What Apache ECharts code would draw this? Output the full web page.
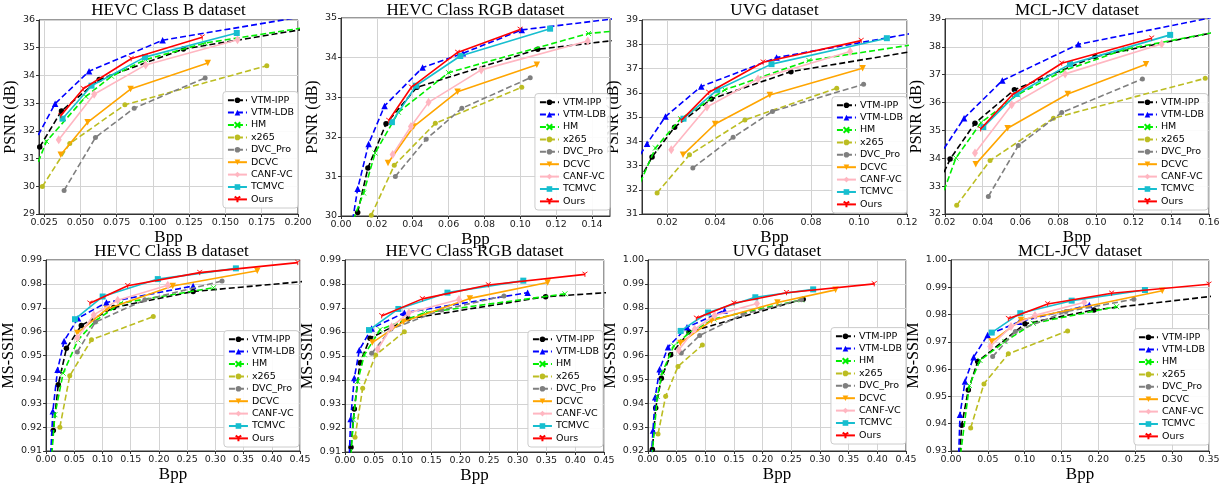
<!DOCTYPE html>
<html><head><meta charset="utf-8">
<script src="https://cdn.jsdelivr.net/npm/echarts@6/dist/echarts.min.js"></script>
<style>html,body{margin:0;padding:0;background:#fff}#c{width:1225px;height:485px}</style>
</head><body><div id="c"></div>
<script>
// ---------- DATA ----------
const seriesNames = ['VTM-IPP','VTM-LDB','HM','x265','DVC_Pro','DCVC','CANF-VC','TCMVC','Ours'];
const panelTitles = ['HEVC Class B dataset','HEVC Class RGB dataset','UVG dataset','MCL-JCV dataset',
                     'HEVC Class B dataset','HEVC Class RGB dataset','UVG dataset','MCL-JCV dataset'];
const yNames = ['PSNR (dB)','PSNR (dB)','PSNR (dB)','PSNR (dB)','MS-SSIM','MS-SSIM','MS-SSIM','MS-SSIM'];
const xName = 'Bpp';

// axis ranges and tick labels
const xRanges = [[0.0215,0.2],[0,0.15],[0.0095,0.12],[0.02,0.16],[0,0.45],[0,0.45],[0,0.45],[0,0.35]];
const yRanges = [[29,36],[30,35],[31,39],[32,39],[0.91,0.99],[0.91,0.99],[0.92,1.00],[0.93,1.00]];
const xTicks = [
  ['0.025','0.050','0.075','0.100','0.125','0.150','0.175','0.200'],
  ['0.00','0.02','0.04','0.06','0.08','0.10','0.12','0.14'],
  ['0.02','0.04','0.06','0.08','0.10','0.12'],
  ['0.02','0.04','0.06','0.08','0.10','0.12','0.14','0.16'],
  ['0.00','0.05','0.10','0.15','0.20','0.25','0.30','0.35','0.40','0.45'],
  ['0.00','0.05','0.10','0.15','0.20','0.25','0.30','0.35','0.40','0.45'],
  ['0.00','0.05','0.10','0.15','0.20','0.25','0.30','0.35','0.40','0.45'],
  ['0.00','0.05','0.10','0.15','0.20','0.25','0.30','0.35']
];
const yTicks = [
  ['29','30','31','32','33','34','35','36'],
  ['30','31','32','33','34','35'],
  ['31','32','33','34','35','36','37','38','39'],
  ['32','33','34','35','36','37','38','39'],
  ['0.91','0.92','0.93','0.94','0.95','0.96','0.97','0.98','0.99'],
  ['0.91','0.92','0.93','0.94','0.95','0.96','0.97','0.98','0.99'],
  ['0.92','0.93','0.94','0.95','0.96','0.97','0.98','0.99','1.00'],
  ['0.93','0.94','0.95','0.96','0.97','0.98','0.99','1.00']
];

// series values per panel, in seriesNames order: [bpp, quality]
const hevcB_psnr = [
  [[0.022,31.42],[0.037,32.72],[0.063,33.85],[0.121,34.95],[0.21,35.72]],
  [[0.021,31.85],[0.0326,32.98],[0.056,34.15],[0.1067,35.27],[0.21,36.18]],
  [[0.021,30.88],[0.0266,31.62],[0.0538,33.24],[0.0715,33.97],[0.095,34.57],[0.136,35.17],[0.21,35.77]],
  [[0.0238,29.99],[0.0427,31.54],[0.0807,32.94],[0.1785,34.35]],
  [[0.0388,29.85],[0.0604,31.76],[0.0871,32.82],[0.136,33.91]],
  [[0.0365,31.14],[0.055,32.31],[0.0846,33.51],[0.1378,34.45]],
  [[0.0351,31.68],[0.0595,33.32],[0.095,34.38],[0.1583,35.29]],
  [[0.0377,32.44],[0.0577,33.63],[0.0945,34.66],[0.1578,35.53]],
  [[0.0365,32.55],[0.052,33.52],[0.085,34.6],[0.134,35.38]]
];
const hevcRGB_psnr = [
  [[0.0093,30.09],[0.015,31.21],[0.0251,32.33],[0.0423,33.25],[0.1097,34.21],[0.165,34.5]],
  [[0.0065,29.9],[0.0093,30.69],[0.0154,31.82],[0.0243,32.78],[0.0455,33.75],[0.068,34.11],[0.1008,34.7],[0.165,35.05]],
  [[0.0068,29.9],[0.0126,30.58],[0.019,31.59],[0.032,32.62],[0.06,33.62],[0.138,34.61],[0.165,34.72]],
  [[0.0169,30.02],[0.0297,31.28],[0.0526,32.34],[0.1008,33.25]],
  [[0.0303,31.0],[0.0475,31.94],[0.0674,32.72],[0.1055,33.49]],
  [[0.0262,31.34],[0.0405,32.26],[0.065,33.14],[0.1092,33.82]],
  [[0.0288,31.55],[0.039,32.26],[0.0488,32.87],[0.0782,33.69],[0.1376,34.42]],
  [[0.0284,32.37],[0.0418,33.29],[0.0665,34.04],[0.1166,34.73]],
  [[0.0266,32.41],[0.0392,33.25],[0.065,34.13],[0.0999,34.71]]
];
const uvg_psnr = [
  [[0.0085,32.4],[0.0137,33.35],[0.0231,34.58],[0.0384,35.74],[0.0716,36.87],[0.125,37.75]],
  [[0.0088,33.45],[0.0116,33.9],[0.0193,35.02],[0.0342,36.26],[0.0656,37.45],[0.125,38.5]],
  [[0.0088,32.3],[0.0151,33.72],[0.0256,34.93],[0.044,36.12],[0.0791,37.33],[0.125,38.02]],
  [[0.0158,31.87],[0.0293,33.44],[0.0524,34.88],[0.0907,36.19]],
  [[0.0307,32.9],[0.0475,34.16],[0.0639,35.23],[0.1019,36.35]],
  [[0.0266,33.44],[0.04,34.71],[0.0628,35.91],[0.1015,37.01]],
  [[0.0217,33.65],[0.0366,35.41],[0.0579,36.57],[0.0963,37.7]],
  [[0.0268,34.93],[0.0409,36.12],[0.0635,37.18],[0.1116,38.25]],
  [[0.0259,34.86],[0.0373,36.01],[0.06,37.26],[0.1009,38.15]]
];
const mcl_psnr = [
  [[0.0195,33.5],[0.0227,33.97],[0.0359,35.26],[0.0568,36.46],[0.0996,37.65],[0.165,38.55]],
  [[0.0195,34.35],[0.0301,35.44],[0.0504,36.79],[0.0907,38.09],[0.165,39.1]],
  [[0.0195,32.85],[0.0258,34.01],[0.0391,35.28],[0.0584,36.28],[0.0828,37.14],[0.1155,37.91],[0.165,38.55]],
  [[0.0262,32.31],[0.0439,33.92],[0.0775,35.44],[0.158,36.87]],
  [[0.043,32.63],[0.0589,34.46],[0.0819,35.64],[0.1247,36.85]],
  [[0.0363,33.79],[0.0532,35.08],[0.0851,36.31],[0.1266,37.38]],
  [[0.0359,34.19],[0.0554,35.92],[0.0837,37.03],[0.1349,38.1]],
  [[0.0403,35.12],[0.058,36.31],[0.0863,37.38],[0.1394,38.43]],
  [[0.0389,35.05],[0.0557,36.28],[0.0819,37.41],[0.1296,38.31]]
];
const hevcB_ssim = [
  [[0.008,0.905],[0.0128,0.9186],[0.0216,0.9377],[0.0361,0.953],[0.0625,0.9626],[0.12,0.9701],[0.2606,0.9768],[0.48,0.9815]],
  [[0.0075,0.905],[0.012,0.9266],[0.0204,0.944],[0.032,0.9561],[0.0566,0.9656],[0.107,0.9722],[0.2606,0.9791]],
  [[0.009,0.905],[0.0157,0.9252],[0.0303,0.9426],[0.0566,0.9565],[0.0875,0.9645],[0.1323,0.9719],[0.2967,0.9784]],
  [[0.0245,0.92],[0.042,0.9415],[0.0805,0.9566],[0.19,0.9663]],
  [[0.0554,0.9515],[0.0875,0.964],[0.175,0.9733],[0.3119,0.9812]],
  [[0.0554,0.9594],[0.108,0.9695],[0.2244,0.9791],[0.3743,0.9855]],
  [[0.0554,0.9573],[0.0845,0.967],[0.127,0.9731],[0.2157,0.9794]],
  [[0.0513,0.9652],[0.1003,0.9747],[0.198,0.982],[0.3364,0.9865]],
  [[0.0776,0.9719],[0.1446,0.9792],[0.2723,0.9847],[0.446,0.9889]]
];
const hevcRGB_ssim = [
  [[0.008,0.905],[0.0104,0.912],[0.0162,0.9279],[0.026,0.9472],[0.0435,0.9574],[0.11,0.9655],[0.3486,0.9747],[0.48,0.9768]],
  [[0.007,0.905],[0.0098,0.9238],[0.0162,0.9408],[0.0249,0.9525],[0.0463,0.9615],[0.1031,0.968],[0.3173,0.9764]],
  [[0.0095,0.905],[0.0145,0.9234],[0.022,0.9394],[0.0336,0.9505],[0.061,0.961],[0.1378,0.968],[0.3821,0.9759]],
  [[0.0174,0.9161],[0.0307,0.9366],[0.0533,0.9504],[0.1031,0.9601]],
  [[0.0463,0.9511],[0.0799,0.9612],[0.1679,0.9692],[0.2762,0.975]],
  [[0.0475,0.9556],[0.1014,0.9643],[0.217,0.974],[0.352,0.9806]],
  [[0.0568,0.9528],[0.0811,0.9622],[0.111,0.968],[0.198,0.9735]],
  [[0.0417,0.9608],[0.0927,0.9696],[0.178,0.9764],[0.3098,0.9814]],
  [[0.0637,0.9667],[0.1344,0.9738],[0.249,0.9796],[0.4169,0.984]]
];
const uvg_ssim = [
  [[0.0065,0.915],[0.0076,0.9206],[0.0134,0.938],[0.0233,0.9505],[0.0395,0.9603],[0.0715,0.9698],[0.2706,0.9836]],
  [[0.006,0.918],[0.0087,0.9286],[0.0125,0.9425],[0.0203,0.9542],[0.0349,0.9635],[0.068,0.9718],[0.1337,0.9789]],
  [[0.007,0.918],[0.0163,0.9429],[0.025,0.9529],[0.0448,0.964],[0.071,0.9693],[0.1152,0.9753],[0.2677,0.9833]],
  [[0.0175,0.9271],[0.0308,0.9429],[0.0523,0.9554],[0.0948,0.9644]],
  [[0.0581,0.961],[0.0901,0.9684],[0.1657,0.9773],[0.2677,0.9833]],
  [[0.0565,0.9652],[0.1106,0.9746],[0.2258,0.9822],[0.3271,0.9875]],
  [[0.0535,0.9623],[0.0814,0.971],[0.1163,0.9768],[0.19,0.9818]],
  [[0.057,0.9703],[0.1047,0.978],[0.1872,0.9844],[0.2881,0.9877]],
  [[0.0843,0.9756],[0.15,0.9819],[0.2415,0.9863],[0.3946,0.99]]
];
const mcl_ssim = [
  [[0.012,0.929],[0.0145,0.9394],[0.0235,0.9524],[0.0362,0.9628],[0.1003,0.9766],[0.1939,0.9817],[0.37,0.9872]],
  [[0.0105,0.929],[0.0122,0.9433],[0.019,0.9555],[0.0307,0.9644],[0.0497,0.9725],[0.0927,0.9774],[0.1876,0.9835]],
  [[0.013,0.929],[0.0249,0.954],[0.0393,0.9632],[0.0732,0.9701],[0.1116,0.9768],[0.2246,0.9829]],
  [[0.0267,0.9384],[0.0447,0.9546],[0.0778,0.9656],[0.1582,0.974]],
  [[0.0565,0.9646],[0.0873,0.9738],[0.156,0.9811],[0.2481,0.9856]],
  [[0.0552,0.9701],[0.0949,0.978],[0.2866,0.9887]],
  [[0.0533,0.9683],[0.0814,0.9756],[0.1139,0.9797],[0.1808,0.9845]],
  [[0.0552,0.9734],[0.094,0.9805],[0.1637,0.9851],[0.2631,0.989]],
  [[0.0778,0.9785],[0.1311,0.9839],[0.2179,0.9878],[0.35,0.9911]]
];
const panelData = [hevcB_psnr, hevcRGB_psnr, uvg_psnr, mcl_psnr, hevcB_ssim, hevcRGB_ssim, uvg_ssim, mcl_ssim];

// ---------- LAYOUT / STYLE ----------
const W = 1225, H = 485;
const grids = [
  {left:39, top:20, width:259, height:194},
  {left:341, top:18, width:269, height:198},
  {left:642, top:20, width:265, height:194},
  {left:945, top:19, width:264, height:195},
  {left:43, top:260, width:257, height:191},
  {left:345, top:260, width:259, height:192},
  {left:648, top:260, width:258, height:191},
  {left:951, top:260, width:258, height:191}
];
const legendPos = [
  {right:927, bottom:277},{right:615, bottom:275},{right:318, bottom:272},{right:17, bottom:275},
  {right:926, bottom:38},{right:622, bottom:38},{right:319, bottom:41},{right:16, bottom:40}
];
const yNameGap = [18,14,14,13,22,20,21,21];
const xNameGap = [2,1,2,2,7,7,7,7];

const X_PATH = 'path://M0,0L10,10M10,0L0,10';
const TRI1_PATH = 'path://M5,5L5,10M5,5L0.67,2.5M5,5L9.33,2.5';
const styles = [
  {color:'#000000', dash:true,  symbol:'circle',   size:5.5},
  {color:'#0000ff', dash:true,  symbol:'triangle', size:6.5},
  {color:'#00ee00', dash:true,  symbol:X_PATH,     size:5, stroke:true},
  {color:'#bcbd22', dash:true,  symbol:'circle',   size:5},
  {color:'#7f7f7f', dash:true,  symbol:'circle',   size:5},
  {color:'#ffa500', dash:false, symbol:'triangle', size:6.5, rotate:180},
  {color:'#ffb6c1', dash:false, symbol:'diamond',  size:[6,9]},
  {color:'#17becf', dash:false, symbol:'rect',     size:6},
  {color:'#ff0000', dash:false, symbol:TRI1_PATH,  size:5, stroke:true}
];

const sansFont = 'DejaVu Sans';
const serifFont = 'Liberation Serif';

const option = {
  animation:false,
  backgroundColor:'#ffffff',
  grid: grids.map(g => Object.assign({show:true, borderColor:'#333', borderWidth:1, backgroundColor:'#fff', containLabel:false}, g)),
  xAxis: [], yAxis: [], series: [], legend: [], graphic: []
};

for (let p = 0; p < 8; p++) {
  const xv = xTicks[p].map(Number), yv = yTicks[p].map(Number);
  const xDec = xTicks[p][0].split('.')[1] ? xTicks[p][0].split('.')[1].length : 0;
  const yDec = yTicks[p][0].split('.')[1] ? yTicks[p][0].split('.')[1].length : 0;
  option.xAxis.push({
    type:'value', gridIndex:p, min:xRanges[p][0], max:xRanges[p][1],
    name:xName, nameLocation:'middle', nameGap:xNameGap[p],
    nameTextStyle:{fontFamily:serifFont, fontSize:17, color:'#000', verticalAlign:'top'},
    axisLine:{show:true, onZero:false, lineStyle:{color:'#333', width:1}},
    axisTick:{show:true, length:3, lineStyle:{color:'#333'}, customValues:xv},
    axisLabel:{fontFamily:sansFont, fontSize:9.5, color:'#222', margin:4, customValues:xv,
               formatter:v => Number(v).toFixed(xDec), showMinLabel:true, showMaxLabel:true},
    splitLine:{show:true, lineStyle:{color:'#d3d3d3', width:1}}
  });
  option.yAxis.push({
    type:'value', gridIndex:p, min:yRanges[p][0], max:yRanges[p][1],
    name:yNames[p], nameLocation:'middle', nameGap:yNameGap[p], nameRotate:90,
    nameTextStyle:{fontFamily:serifFont, fontSize:16, color:'#000'},
    axisLine:{show:true, onZero:false, lineStyle:{color:'#333', width:1}},
    axisTick:{show:true, length:3, lineStyle:{color:'#333'}, customValues:yv},
    axisLabel:{fontFamily:sansFont, fontSize:9.5, color:'#222', margin:4, customValues:yv,
               formatter:v => Number(v).toFixed(yDec)},
    splitLine:{show:true, lineStyle:{color:'#d3d3d3', width:1}}
  });
  panelData[p].forEach((pts, s) => {
    const st = styles[s];
    option.series.push({
      type:'line', name:seriesNames[s], xAxisIndex:p, yAxisIndex:p,
      data:pts, clip:true, smooth:false,
      symbol:st.symbol, symbolSize:st.size, symbolRotate:st.rotate || 0, showSymbol:true,
      lineStyle:{color:st.color, width:1.6, type: st.dash ? [6,3] : 'solid'},
      itemStyle: st.stroke ? {color:st.color, borderColor:st.color, borderWidth:0.9}
                           : {color:st.color, borderWidth:0},
      emphasis:{disabled:true},
      z: 2 + s
    });
  });
  option.legend.push(Object.assign({
    orient:'vertical', data:seriesNames, selectedMode:false,
    itemWidth:19, itemHeight:7, itemGap:1.2, padding:[3,4,3,4],
    backgroundColor:'rgba(255,255,255,0.9)', borderColor:'#cccccc', borderWidth:1, borderRadius:3,
    textStyle:{fontFamily:sansFont, fontSize:9.5, color:'#000', lineHeight:11.2, padding:[0,0,0,-1]}
  }, legendPos[p]));
  const g = grids[p];
  option.graphic.push({
    type:'text', x: g.left + g.width/2, y: p < 4 ? 2 : 243,
    style:{text:panelTitles[p], fontFamily:serifFont, fontSize:17, fill:'#000', textAlign:'center', textVerticalAlign:'top'}
  });
}

const chart = echarts.init(document.getElementById('c'), null, {renderer:'canvas', width:W, height:H});
chart.setOption(option);
</script>
</body></html>
